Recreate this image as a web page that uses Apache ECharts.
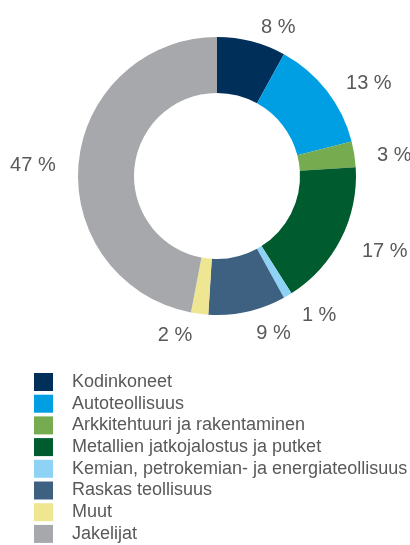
<!DOCTYPE html>
<html>
<head>
<meta charset="utf-8">
<script src="https://cdn.jsdelivr.net/npm/echarts@6/dist/echarts.min.js"></script>
<style>
  html, body { margin: 0; padding: 0; background: #fff; }
  #chart { width: 410px; height: 545px; }
</style>
</head>
<body>
<div id="chart"></div>
<script>
const categories = [
  'Kodinkoneet',
  'Autoteollisuus',
  'Arkkitehtuuri ja rakentaminen',
  'Metallien jatkojalostus ja putket',
  'Kemian, petrokemian- ja energiateollisuus',
  'Raskas teollisuus',
  'Muut',
  'Jakelijat'
]
const shares = [8, 13, 3, 17, 1, 9, 2, 47]
const colors = ['#00305a', '#009fe3', '#76ab4f', '#005c2f', '#8ed3f5', '#3f6181', '#efe691', '#a6a8ab']

const textColor = '#595959'
const fontFamily = '"Liberation Sans", Arial, sans-serif'

const chart = echarts.init(document.getElementById('chart'))

chart.setOption({
  animation: false,
  color: colors,
  legend: {
    orient: 'vertical',
    left: 34,
    top: 373,
    height: 172,
    padding: 0,
    itemWidth: 19,
    itemHeight: 18,
    itemGap: 3.7,
    icon: 'rect',
    selectedMode: false,
    textStyle: {
      color: textColor,
      fontSize: 18,
      fontFamily: fontFamily,
      padding: [0, 0, 0, 14],
    },
    data: categories,
  },
  series: [{
    type: 'pie',
    center: [217, 176],
    radius: [83, 139],
    startAngle: 90,
    clockwise: true,
    avoidLabelOverlap: false,
    label: {
      show: true,
      position: 'outside',
      formatter: '{c} %',
      color: textColor,
      fontSize: 20,
      fontFamily: fontFamily,
      offset: [0, 4],
    },
    labelLine: {
      show: false,
      length: 18,
      length2: 0,
    },
    data: categories.map((name, i) => ({ name: name, value: shares[i] })),
  }],
})
</script>
</body>
</html>
